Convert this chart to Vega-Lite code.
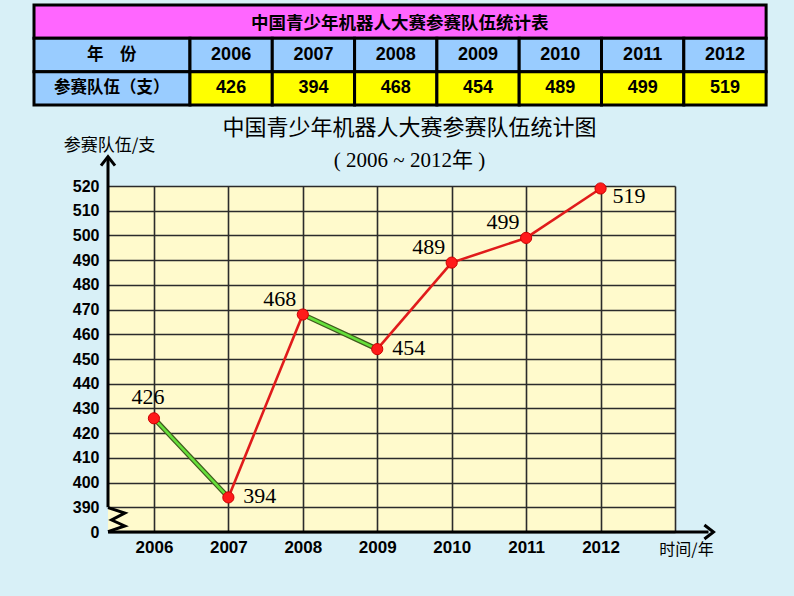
{
  "$schema": "https://vega.github.io/schema/vega-lite/v6.json",
  "background": "#d8f0f7",
  "padding": {"left": 32, "top": 3, "right": 27, "bottom": 41},
  "spacing": 10,
  "config": {"font": "Noto Sans CJK SC"},
  "datasets": {
    "teams": [
      {"year": 2006, "teams": 426},
      {"year": 2007, "teams": 394},
      {"year": 2008, "teams": 468},
      {"year": 2009, "teams": 454},
      {"year": 2010, "teams": 489},
      {"year": 2011, "teams": 499},
      {"year": 2012, "teams": 519}
    ]
  },
  "vconcat": [
    {
      "width": 567,
      "height": 100,
      "view": {"stroke": null},
      "layer": [
        {
          "data": {"values": [{"row": "title", "label": "中国青少年机器人大赛参赛队伍统计表"}]},
          "layer": [
            {
              "mark": {"type": "rect", "fill": "#ff66ff", "stroke": "black", "strokeWidth": 3},
              "encoding": {
                "x": {"datum": 2003.605, "type": "quantitative", "scale": {"domain": [2004.504, 2011.393], "nice": false, "zero": false}, "axis": null},
                "x2": {"datum": 2012.5},
                "y": {"field": "row", "type": "nominal", "scale": {"domain": ["title", "year", "value"], "paddingInner": 0, "paddingOuter": 0}, "axis": null}
              }
            },
            {
              "mark": {"type": "text", "font": "Noto Sans CJK SC", "fontWeight": "bold", "fontSize": 17.5, "color": "black", "dy": 2},
              "encoding": {
                "x": {"datum": 2008.05, "type": "quantitative"},
                "y": {"field": "row", "type": "nominal"},
                "text": {"field": "label"}
              }
            }
          ]
        },
        {
          "data": {"values": [{"row": "year", "label": "年　份"}, {"row": "value", "label": "参赛队伍（支）"}]},
          "layer": [
            {
              "mark": {"type": "rect", "fill": "#99ccff", "stroke": "black", "strokeWidth": 3},
              "encoding": {
                "x": {"datum": 2003.605, "type": "quantitative"},
                "x2": {"datum": 2005.5},
                "y": {"field": "row", "type": "nominal"}
              }
            },
            {
              "mark": {"type": "text", "font": "Noto Sans CJK SC", "fontWeight": "bold", "fontSize": 16.5, "color": "black"},
              "encoding": {
                "x": {"datum": 2004.55, "type": "quantitative"},
                "y": {"field": "row", "type": "nominal"},
                "text": {"field": "label"}
              }
            }
          ]
        },
        {
          "data": {"name": "teams"},
          "transform": [
            {"calculate": "datum.year - 0.5", "as": "x0"},
            {"calculate": "datum.year + 0.5", "as": "x1"},
            {"calculate": "'year'", "as": "row"}
          ],
          "layer": [
            {
              "mark": {"type": "rect", "fill": "#99ccff", "stroke": "black", "strokeWidth": 3},
              "encoding": {
                "x": {"field": "x0", "type": "quantitative"},
                "x2": {"field": "x1"},
                "y": {"field": "row", "type": "nominal"}
              }
            },
            {
              "mark": {"type": "text", "font": "Liberation Sans", "fontWeight": "bold", "fontSize": 18, "color": "black"},
              "encoding": {
                "x": {"field": "year", "type": "quantitative"},
                "y": {"field": "row", "type": "nominal"},
                "text": {"field": "year", "type": "quantitative", "format": "d"}
              }
            }
          ]
        },
        {
          "data": {"name": "teams"},
          "transform": [
            {"calculate": "datum.year - 0.5", "as": "x0"},
            {"calculate": "datum.year + 0.5", "as": "x1"},
            {"calculate": "'value'", "as": "row"}
          ],
          "layer": [
            {
              "mark": {"type": "rect", "fill": "#ffff00", "stroke": "black", "strokeWidth": 3},
              "encoding": {
                "x": {"field": "x0", "type": "quantitative"},
                "x2": {"field": "x1"},
                "y": {"field": "row", "type": "nominal"}
              }
            },
            {
              "mark": {"type": "text", "font": "Liberation Sans", "fontWeight": "bold", "fontSize": 18, "color": "black"},
              "encoding": {
                "x": {"field": "year", "type": "quantitative"},
                "y": {"field": "row", "type": "nominal"},
                "text": {"field": "teams", "type": "quantitative"}
              }
            }
          ]
        }
      ]
    },
    {
      "width": 567,
      "height": 346,
      "view": {"fill": "#fffacc", "stroke": null},
      "title": {
        "text": "中国青少年机器人大赛参赛队伍统计图",
        "subtitle": "( 2006 ~ 2012年 )",
        "anchor": "middle",
        "frame": "group",
        "dx": 18,
        "offset": -36,
        "font": "Noto Sans CJK SC",
        "fontSize": 22,
        "fontWeight": "normal",
        "color": "black",
        "subtitleFont": "Liberation Serif, Noto Sans CJK SC",
        "subtitleFontSize": 21,
        "subtitleColor": "black",
        "subtitlePadding": 10
      },
      "layer": [
        {
          "data": {"name": "teams"},
          "mark": {"type": "circle", "size": 0, "opacity": 0},
          "encoding": {
            "x": {
              "field": "year", "type": "quantitative", "title": "时间/年",
              "scale": {"domain": [2005.383, 2013], "nice": false, "zero": false},
              "axis": {
                "values": [2006, 2007, 2008, 2009, 2010, 2011, 2012, 2013],
                "tickCount": 20,
                "format": "d",
                "labelExpr": "datum.value > 2012.5 ? '' : datum.label",
                "labelOverlap": false,
                "ticks": false, "domain": false,
                "grid": true, "gridColor": "#2b2b2b", "gridWidth": 1.6, "gridOpacity": 1,
                "labelFont": "Liberation Sans", "labelFontWeight": "bold", "labelFontSize": 17, "labelColor": "black", "labelPadding": 7,
                "title": "时间/年",
                "titleFont": "Noto Sans CJK SC", "titleFontSize": 16, "titleFontWeight": "normal", "titleColor": "black",
                "titleX": 578, "titleY": 17, "titleAlign": "center", "titleBaseline": "middle"
              }
            },
            "y": {
              "field": "teams", "type": "quantitative", "title": "参赛队伍/支",
              "scale": {"domain": [380, 520], "nice": false, "zero": false},
              "axis": {
                "values": [380, 390, 400, 410, 420, 430, 440, 450, 460, 470, 480, 490, 500, 510, 520],
                "tickCount": 30,
                "labelExpr": "datum.value == 380 ? '0' : datum.label",
                "labelOverlap": false,
                "ticks": false, "domain": false,
                "grid": true, "gridColor": "#2b2b2b", "gridWidth": 1.6, "gridOpacity": 1,
                "labelFont": "Liberation Sans", "labelFontWeight": "bold", "labelFontSize": 16, "labelColor": "black", "labelPadding": 9,
                "title": "参赛队伍/支",
                "titleFont": "Noto Sans CJK SC", "titleFontSize": 17, "titleFontWeight": "normal", "titleColor": "black",
                "titleAngle": 0, "titleX": 1, "titleY": -41, "titleAlign": "center", "titleBaseline": "middle"
              }
            }
          }
        },
        {
          "data": {"name": "teams"},
          "transform": [
            {"window": [{"op": "lead", "field": "teams", "as": "nextTeams"}, {"op": "lead", "field": "year", "as": "nextYear"}], "sort": [{"field": "year", "order": "ascending"}]},
            {"filter": "datum.nextYear != null"}
          ],
          "layer": [
            {
              "transform": [{"filter": "datum.nextTeams > datum.teams"}],
              "mark": {"type": "rule", "stroke": "#e01b1b", "strokeWidth": 2.6},
              "encoding": {
                "x": {"field": "year", "type": "quantitative"},
                "x2": {"field": "nextYear"},
                "y": {"field": "teams", "type": "quantitative"},
                "y2": {"field": "nextTeams"}
              }
            },
            {
              "transform": [{"filter": "datum.nextTeams < datum.teams"}],
              "mark": {"type": "rule", "stroke": "#3f5a1c", "strokeWidth": 5},
              "encoding": {
                "x": {"field": "year", "type": "quantitative"},
                "x2": {"field": "nextYear"},
                "y": {"field": "teams", "type": "quantitative"},
                "y2": {"field": "nextTeams"}
              }
            },
            {
              "transform": [{"filter": "datum.nextTeams < datum.teams"}],
              "mark": {"type": "rule", "stroke": "#66e03a", "strokeWidth": 2.6},
              "encoding": {
                "x": {"field": "year", "type": "quantitative"},
                "x2": {"field": "nextYear"},
                "y": {"field": "teams", "type": "quantitative"},
                "y2": {"field": "nextTeams"}
              }
            }
          ]
        },
        {
          "data": {"name": "teams"},
          "layer": [
            {
              "mark": {"type": "circle", "size": 125, "fill": "#ff1a1a", "stroke": "#cc0000", "strokeWidth": 1, "opacity": 1},
              "encoding": {
                "x": {"field": "year", "type": "quantitative"},
                "y": {"field": "teams", "type": "quantitative"}
              }
            },
            {
              "transform": [{"filter": "datum.year == 2006"}],
              "mark": {"type": "text", "font": "Liberation Serif", "fontSize": 22, "color": "black", "align": "center", "baseline": "middle", "dx": -6, "dy": -21},
              "encoding": {
                "x": {"field": "year", "type": "quantitative"},
                "y": {"field": "teams", "type": "quantitative"},
                "text": {"field": "teams", "type": "quantitative"}
              }
            },
            {
              "transform": [{"filter": "datum.year == 2008 || datum.year == 2010 || datum.year == 2011"}],
              "mark": {"type": "text", "font": "Liberation Serif", "fontSize": 22, "color": "black", "align": "center", "baseline": "middle", "dx": -23, "dy": -16},
              "encoding": {
                "x": {"field": "year", "type": "quantitative"},
                "y": {"field": "teams", "type": "quantitative"},
                "text": {"field": "teams", "type": "quantitative"}
              }
            },
            {
              "transform": [{"filter": "datum.year == 2007 || datum.year == 2009"}],
              "mark": {"type": "text", "font": "Liberation Serif", "fontSize": 22, "color": "black", "align": "left", "baseline": "middle", "dx": 15, "dy": -1},
              "encoding": {
                "x": {"field": "year", "type": "quantitative"},
                "y": {"field": "teams", "type": "quantitative"},
                "text": {"field": "teams", "type": "quantitative"}
              }
            },
            {
              "transform": [{"filter": "datum.year == 2012"}],
              "mark": {"type": "text", "font": "Liberation Serif", "fontSize": 22, "color": "black", "align": "left", "baseline": "middle", "dx": 12, "dy": 8},
              "encoding": {
                "x": {"field": "year", "type": "quantitative"},
                "y": {"field": "teams", "type": "quantitative"},
                "text": {"field": "teams", "type": "quantitative"}
              }
            }
          ]
        },
        {
          "data": {"values": [{}]},
          "layer": [
            {
              "mark": {"type": "rule", "stroke": "black", "strokeWidth": 3},
              "encoding": {
                "x": {"datum": 2005.383, "type": "quantitative"},
                "y": {"datum": 390, "type": "quantitative"},
                "y2": {"datum": 531}
              }
            },
            {
              "mark": {"type": "rule", "stroke": "black", "strokeWidth": 3},
              "encoding": {
                "x": {"datum": 2005.383, "type": "quantitative"},
                "x2": {"datum": 2013.45},
                "y": {"datum": 380, "type": "quantitative"}
              }
            },
            {
              "mark": {"type": "point", "shape": "M-1,1.3 L0,0 L1,1.3", "size": 196, "filled": false, "stroke": "black", "strokeWidth": 3, "opacity": 1, "strokeJoin": "miter"},
              "encoding": {
                "x": {"datum": 2005.383, "type": "quantitative"},
                "y": {"datum": 531.9, "type": "quantitative"}
              }
            },
            {
              "mark": {"type": "point", "shape": "M-1.3,-1 L0,0 L-1.3,1", "size": 196, "filled": false, "stroke": "black", "strokeWidth": 3, "opacity": 1, "strokeJoin": "miter"},
              "encoding": {
                "x": {"datum": 2013.517, "type": "quantitative"},
                "y": {"datum": 380, "type": "quantitative"}
              }
            },
            {
              "mark": {"type": "point", "shape": "M0,-1 L1.4,-0.55 L0.3,0.03 L1.4,0.53 L0,1", "size": 576, "filled": false, "stroke": "black", "strokeWidth": 3, "opacity": 1, "strokeJoin": "miter"},
              "encoding": {
                "x": {"datum": 2005.383, "type": "quantitative"},
                "y": {"datum": 385, "type": "quantitative"}
              }
            }
          ]
        }
      ]
    }
  ]
}
